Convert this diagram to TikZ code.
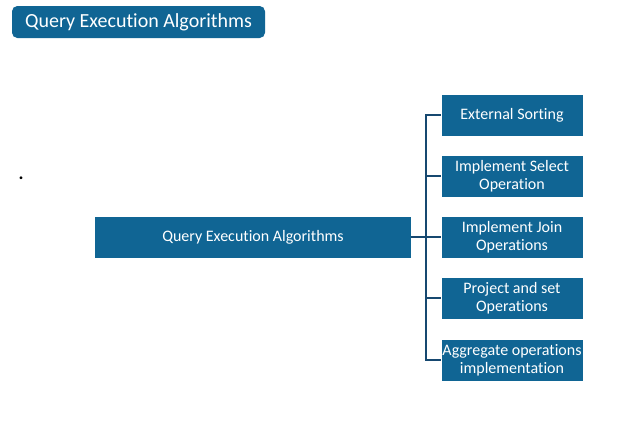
\documentclass[tikz,border=0pt]{standalone}
\usepackage{fontspec}
\setmainfont{Carlito}[Ligatures={NoCommon}]
\definecolor{boxblue}{RGB}{16,101,148}
\definecolor{linkblue}{RGB}{22,72,112}
\tikzset{
  algobox/.style={fill=boxblue, text=white, align=center, inner sep=0pt,
    minimum height=30.75pt, font=\fontsize{12}{13.5}\selectfont},
  subbox/.style={algobox, minimum width=105.75pt},
  link/.style={draw=linkblue, line width=1.1pt}
}
\begin{document}
\begin{tikzpicture}[x=0.75pt,y=-0.75pt]
\useasboundingbox [fill=white] (0,0) rectangle (626,421);
% title
\node [fill=boxblue, text=white, rounded corners=4pt, minimum width=189.75pt,
  minimum height=24pt, inner sep=0pt, font=\fontsize{15}{18}\selectfont]
  (title) at (138.5,22) {Query Execution Algorithms};
% stray dot
\node [inner sep=0pt, font=\fontsize{14}{16}\bfseries] (dot) at (21,178) {.};
% main box
\node [algobox, minimum width=237pt] (main) at (253,237) {Query Execution Algorithms};
% sub boxes
\node [subbox] (sort) at (512,115) {External Sorting};
\node [subbox] (select) at (512,176) {Implement Select\\Operation};
\node [subbox] (join) at (512,237) {Implement Join\\Operations};
\node [subbox] (project) at (512,298) {Project and set\\Operations};
\node [subbox] (aggregate) at (512,360) {Aggregate operations\\implementation};
% connectors
\coordinate (trunk) at (426,237);
\draw [link] (main.east) -- (trunk);
\draw [link] (trunk) |- (sort.west);
\draw [link] (trunk) |- (select.west);
\draw [link] (trunk) -- (join.west);
\draw [link] (trunk) |- (project.west);
\draw [link] (trunk) |- (aggregate.west);
\end{tikzpicture}
\end{document}
